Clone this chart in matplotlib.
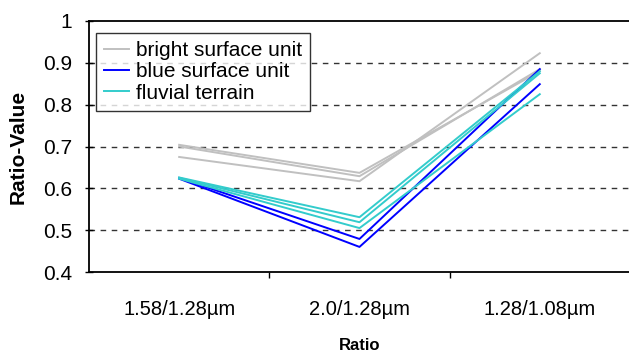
import matplotlib.pyplot as plt

plt.rcParams['font.family'] = ['Liberation Sans', 'DejaVu Sans']

categories = ["1.58/1.28\u00b5m", "2.0/1.28\u00b5m", "1.28/1.08\u00b5m"]

bright = [
    [0.704, 0.637, 0.880],
    [0.700, 0.629, 0.885],
    [0.675, 0.617, 0.923],
]
blue = [
    [0.625, 0.479, 0.885],
    [0.623, 0.460, 0.849],
]
fluvial = [
    [0.626, 0.531, 0.880],
    [0.625, 0.519, 0.875],
    [0.623, 0.505, 0.825],
]

groups = [
    ("bright surface unit", "#c0c0c0", bright),
    ("blue surface unit", "#0000ff", blue),
    ("fluvial terrain", "#33cccc", fluvial),
]

fig = plt.figure(figsize=(6.29, 3.54), dpi=100)
ax = fig.add_axes([0.1415, 0.2316, 0.86, 0.7091])

x = range(len(categories))
for name, color, rows in groups:
    for i, row in enumerate(rows):
        ax.plot(x, row, color=color, lw=1.4,
                label=name if i == 0 else None, zorder=3)

ax.set_xlim(-0.5, 2.5)
ax.set_ylim(0.4, 1.0)
ax.set_yticks([0.4, 0.5, 0.6, 0.7, 0.8, 0.9, 1.0])
ax.set_yticklabels(["0.4", "0.5", "0.6", "0.7", "0.8", "0.9", "1"])
# category boundaries get the tick marks, labels sit in between
ax.set_xticks([0.5, 1.5])
ax.set_xticklabels(["", ""])
ax.set_xticks([0, 1, 2], minor=True)
ax.set_xticklabels(categories, minor=True)
ax.tick_params(axis='x', which='minor', length=0, pad=20, labelsize=14.5)
ax.tick_params(axis='x', which='major', length=4, direction='out', width=1)
ax.tick_params(axis='y', direction='inout', length=6, width=1, labelsize=15, pad=9.4)

for v in [0.5, 0.6, 0.7, 0.8, 0.9]:
    ax.axhline(v, color='#333333', lw=1, ls=(0, (4, 4)), zorder=1)

ax.spines['right'].set_visible(False)
for s in ['left', 'bottom', 'top']:
    ax.spines[s].set_linewidth(1.3)

ax.set_ylabel("Ratio-Value", fontsize=15, fontweight='bold')
ax.yaxis.set_label_coords(-0.113, 0.5)
ax.set_xlabel("Ratio", fontsize=12, fontweight='bold')
ax.xaxis.set_label_coords(0.5, -0.263)

leg = ax.legend(loc='upper left', bbox_to_anchor=(0.013, 0.952), fontsize=15,
                frameon=True, fancybox=False, handlelength=1.2,
                handletextpad=0.3, borderpad=0.4, labelspacing=0.1,
                borderaxespad=0)
leg.get_frame().set_edgecolor('black')
leg.get_frame().set_linewidth(1)

fig.savefig("out.png", dpi=100)
